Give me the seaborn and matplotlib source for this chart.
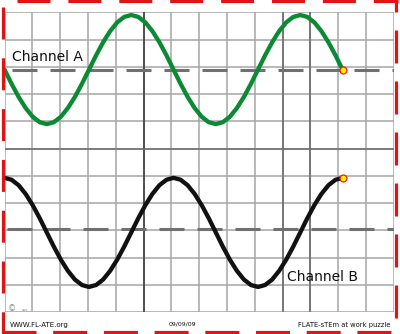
import numpy as np
import pandas as pd
import matplotlib
matplotlib.use("Agg")
import matplotlib.pyplot as plt
import seaborn as sns

# ---- data ----
phase_deg = [0, 15, 30, 45, 60, 75, 90, 105, 120, 135, 150, 165, 180,
             195, 210, 225, 240, 255, 270, 285, 300, 315, 330, 345, 360,
             375, 390, 405, 420, 435, 450, 465, 480, 495, 510, 525, 540,
             555, 570, 585, 600, 615, 630, 645, 660, 675, 690, 705, 720]
channel_a = [0.00, -0.52, -1.00, -1.41, -1.73, -1.93, -2.00, -1.93, -1.73, -1.41, -1.00, -0.52, 0.00,
             0.52, 1.00, 1.41, 1.73, 1.93, 2.00, 1.93, 1.73, 1.41, 1.00, 0.52, 0.00,
             -0.52, -1.00, -1.41, -1.73, -1.93, -2.00, -1.93, -1.73, -1.41, -1.00, -0.52, 0.00,
             0.52, 1.00, 1.41, 1.73, 1.93, 2.00, 1.93, 1.73, 1.41, 1.00, 0.52, 0.00]
channel_b = [2.00, 1.93, 1.73, 1.41, 1.00, 0.52, 0.00, -0.52, -1.00, -1.41, -1.73, -1.93, -2.00,
             -1.93, -1.73, -1.41, -1.00, -0.52, 0.00, 0.52, 1.00, 1.41, 1.73, 1.93, 2.00,
             1.93, 1.73, 1.41, 1.00, 0.52, 0.00, -0.52, -1.00, -1.41, -1.73, -1.93, -2.00,
             -1.93, -1.73, -1.41, -1.00, -0.52, 0.00, 0.52, 1.00, 1.41, 1.73, 1.93, 2.00]
period_div = 6.08          # one period in screen divisions
channel_labels = ["Channel A", "Channel B"]
footer_texts = ["WWW.FL-ATE.org", "09/09/09", "FLATE-sTEm at work puzzle"]

# ---- style ----
sns.set_style("white")
plt.rcParams["font.family"] = ["DejaVu Sans"]
plt.rcParams["lines.scale_dashes"] = False

W, H = 400, 334
PT = 0.72  # points per pixel at 100 dpi
fig = plt.figure(figsize=(W / 100, H / 100), dpi=100)
fig.patch.set_facecolor("white")

gx0, gx1, gy0, gy1 = 4.5, 393.7, 12.3, 312.3
ax = fig.add_axes([gx0 / W, 1 - gy1 / H, (gx1 - gx0) / W, (gy1 - gy0) / H])
ax.set_xlim(0, 14)
ax.set_ylim(0, 11)
ax.set_xticks(range(15))
ax.set_yticks(range(12))
ax.tick_params(length=0, labelbottom=False, labelleft=False)
ax.grid(True, color="#a6a6a6", lw=1.1)
ax.set_axisbelow(True)
for s in ax.spines.values():
    s.set_visible(False)
for xv, c in [(5, "#333333"), (10, "#666666"), (11, "#666666")]:
    ax.axvline(xv, color=c, lw=1.1, zorder=1)
ax.axhline(6, color="#6c6c6c", lw=1.1, zorder=1)

a_off, b_off = 8.9, 2.93
a_ref, b_ref = 8.9, 3.05
df = pd.DataFrame({
    "x": np.array(phase_deg) / 360.0 * period_div,
    "a": np.array(channel_a) + a_off,
    "b": np.array(channel_b) + b_off,
})

dash = (0, (25 * PT, 13 * PT))
ax.plot([(12 - gx0) / 27.8, 14], [a_ref, a_ref], color="#707070", lw=2.2,
        linestyle=dash, dash_capstyle="butt", zorder=2)
ax.plot([(7 - gx0) / 27.8, 14], [b_ref, b_ref], color="#707070", lw=2.2,
        linestyle=dash, dash_capstyle="butt", zorder=2)

sns.lineplot(data=df, x="x", y="a", ax=ax, color="#0b8a34", lw=3.1,
             estimator=None, sort=False, zorder=3)
sns.lineplot(data=df, x="x", y="b", ax=ax, color="#111111", lw=3.1,
             estimator=None, sort=False, zorder=3)
for l in ax.lines:
    l.set_solid_capstyle("round")
ax.set_xlabel("")
ax.set_ylabel("")
ax.plot(df["x"].iloc[-1], df["a"].iloc[-1], "o", mfc="#ffee00", mec="#e02020",
        ms=5, mew=0.9, zorder=5)
ax.plot(df["x"].iloc[-1], df["b"].iloc[-1], "o", mfc="#ffee00", mec="#e02020",
        ms=5, mew=0.9, zorder=5)

# ---- overlay: border & texts ----
ov = fig.add_axes([0, 0, 1, 1])
ov.set_xlim(0, W)
ov.set_ylim(H, 0)
ov.axis("off")
ov.patch.set_alpha(0)
red = "#dd1515"
ov.plot([17, 398], [1.4, 1.4], color=red, lw=2.3,
        linestyle=(0, (33 * PT, 17.9 * PT)), dash_capstyle="butt")
ov.plot([396, 396], [0, H], color=red, lw=2.3,
        linestyle=(21 * PT, (33 * PT, 18 * PT)), dash_capstyle="butt")
ov.plot([3.3, 3.3], [7, H], color=red, lw=2.3,
        linestyle=(0, (32 * PT, 18.8 * PT)), dash_capstyle="butt")
ov.plot([2, 398], [331.5, 331.5], color=red, lw=2.3,
        linestyle=(0, (34 * PT, 16.7 * PT)), dash_capstyle="butt")

ov.text(12, 57, channel_labels[0], fontsize=10, ha="left", va="center", color="#111111")
ov.text(287, 277, channel_labels[1], fontsize=10, ha="left", va="center", color="#111111")
ov.text(10, 325, footer_texts[0], fontsize=5, ha="left", va="center", color="#111111")
ov.text(182, 324, footer_texts[1], fontsize=4.4, ha="center", va="center", color="#111111")
ov.text(390, 325, footer_texts[2], fontsize=4.9, ha="right", va="center", color="#111111")
ov.text(12, 309, "\u00a9", fontsize=6, ha="center", va="center", color="#888888")
ov.text(25, 310, "sss", fontsize=3, ha="center", va="center", color="#888888")

fig.savefig("out.png", dpi=100)
